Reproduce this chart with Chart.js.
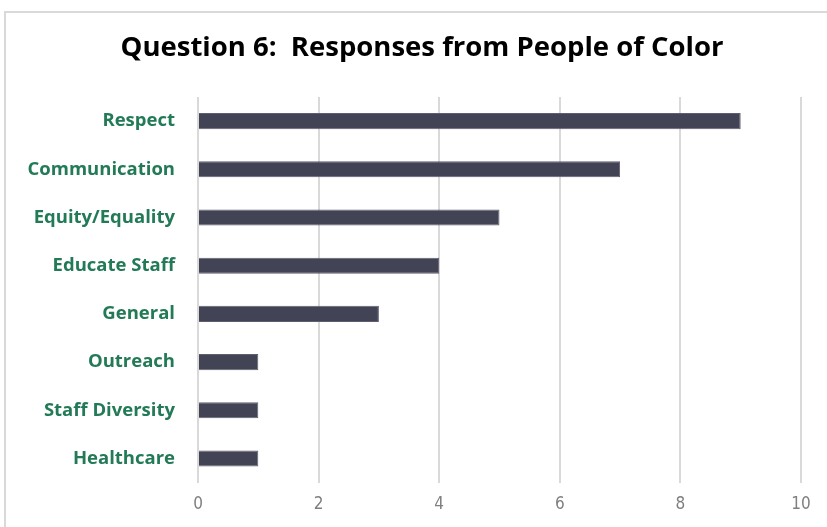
<!DOCTYPE html>
<html><head><meta charset="utf-8">
<script src="https://cdn.jsdelivr.net/npm/chart.js@4"></script>
<style>
html,body{margin:0;padding:0;background:#fff;}
#wrap{position:relative;width:827px;height:527px;overflow:hidden;}
#frame{position:absolute;left:4px;top:11px;width:840px;height:540px;border:2px solid #d9d9d9;box-sizing:border-box;}
canvas{position:absolute;left:0;top:0;}
</style></head>
<body><div id="wrap"><div id="frame"></div><canvas id="c" width="827" height="527"></canvas></div>
<script>
const titleText = "Question 6:  Responses from People of Color";
const categories = ["Respect","Communication","Equity/Equality","Educate Staff","General","Outreach","Staff Diversity","Healthcare"];
const responses = [9,7,5,4,3,1,1,1];
const xTicks = [0,2,4,6,8,10];

const shiftTitle = {
  id: 'shiftTitle',
  afterLayout(chart) {
    const t = chart.titleBlock;
    if (t) { t.left = 43; t.right = chart.chartArea.right; t.width = t.right - t.left; }
  }
};

new Chart(document.getElementById('c'), {
  type: 'bar',
  data: { labels: categories, datasets: [{ data: responses, backgroundColor: '#434356', borderColor: '#5e5e70', borderWidth: 1, barPercentage: 0.67, categoryPercentage: 0.5 }] },
  options: {
    indexAxis: 'y', responsive: false, animation: false,
    layout: { padding: { left: 0, right: 26, top: 0, bottom: 0 } },
    plugins: {
      legend: { display: false }, tooltip: { enabled: false },
      title: { display: true, text: titleText, color: '#000', font: { family: 'Open Sans', size: 27.5, weight: 'bold' }, padding: { top: 32, bottom: 32 } }
    },
    scales: {
      x: { min: 0, max: 10, afterBuildTicks: s => { s.ticks = xTicks.map(v => ({ value: v })); },
        grid: { color: '#d9d9d9', lineWidth: 2, drawTicks: false }, border: { display: false },
        ticks: { color: '#7f7f7f', padding: 12, font: { family: "'Liberation Sans Narrow', 'DejaVu Sans Condensed', 'Roboto', sans-serif", size: 17 } } },
      y: { grid: { display: false }, border: { display: false },
        afterFit: s => { s.width = 198; },
        ticks: { color: '#237a57', padding: 15, font: { family: 'Open Sans', size: 18.5, weight: 'bold' } } }
    }
  },
  plugins: [shiftTitle]
});
</script></body></html>
